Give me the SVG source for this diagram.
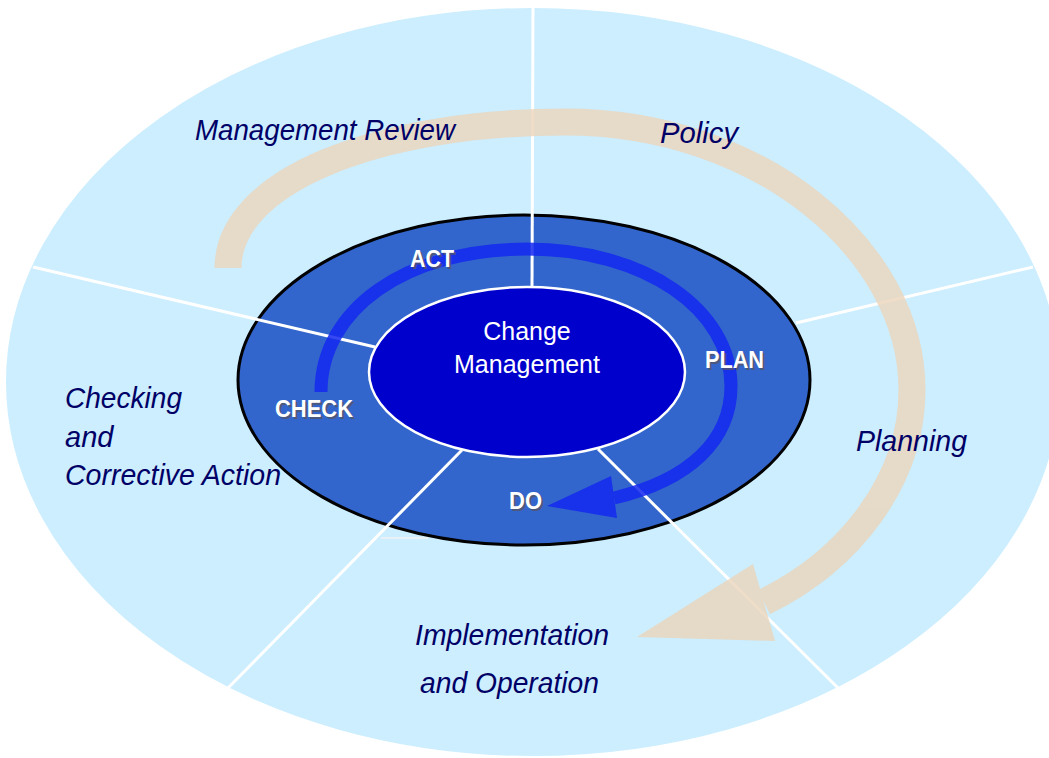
<svg xmlns="http://www.w3.org/2000/svg" width="1049" height="758" viewBox="0 0 1049 758">
<defs>
<style>
.lbl{font-family:"Liberation Sans",Arial,sans-serif;font-style:italic;font-size:29px;fill:#000066;}
.pd{font-family:"Liberation Sans",Arial,sans-serif;font-weight:bold;font-size:23px;fill:#ffffff;}
.pds{font-family:"Liberation Sans",Arial,sans-serif;font-weight:bold;font-size:23px;fill:#555566;opacity:0.75;}
.cm{font-family:"Liberation Sans",Arial,sans-serif;font-size:25px;fill:#ffffff;text-anchor:middle;}
.div{stroke:#ffffff;stroke-width:3;fill:none;}
</style>
</defs>
<rect width="1049" height="758" fill="#ffffff"/>
<g id="outer-ring">
<ellipse cx="533" cy="382" rx="528" ry="375" fill="#cceeff" stroke="#ffffff" stroke-width="2"/>
</g>
<g id="pdca-ring">
<line x1="381" y1="538" x2="428" y2="538" stroke="#e8f0f8" stroke-width="2"/>
<ellipse cx="524" cy="380" rx="286" ry="165" fill="#3366cc" stroke="#000000" stroke-width="3"/>
</g>
<g id="connectors">
<g id="dividers">
<line class="div" x1="533" y1="7" x2="532" y2="288"/>
<line class="div" x1="33" y1="267" x2="375" y2="347"/>
<line class="div" x1="1033" y1="267" x2="796" y2="323"/>
<line class="div" x1="228" y1="688" x2="462" y2="450"/>
<line class="div" x1="838" y1="688" x2="598" y2="449"/>
</g>
</g>
<g id="change-management">
<ellipse cx="527" cy="372" rx="158" ry="85" fill="#0000cc" stroke="#ffffff" stroke-width="2.5"/>
<text class="cm" x="527" y="340">Change</text>
<text class="cm" x="527" y="373">Management</text>
</g>
<g id="cycle-arrows">
<g id="outer-arrow" opacity="0.82">
<path d="M 228 268 C 228 180, 380 122, 565 122 C 760 122, 912 250, 912 390 C 912 480, 850 560, 764 602" fill="none" stroke="#ebd6bc" stroke-width="27"/>
<polygon points="753,564 637,637 775,641" fill="#ebd6bc"/>
</g>
<g id="inner-arrow" opacity="0.85">
<path d="M 321 392 C 321 310, 405 249, 527 249 C 645 249, 731 310, 731 386 C 731 440, 690 480, 614 498" fill="none" stroke="#1428f0" stroke-width="13"/>
<polygon points="611,476 547,506 617,518" fill="#1428f0"/>
</g>
</g>
<g id="management-review"><text class="lbl" x="195" y="140" textLength="260" lengthAdjust="spacingAndGlyphs">Management Review</text></g>
<g id="policy"><text class="lbl" x="660" y="143" textLength="78" lengthAdjust="spacingAndGlyphs">Policy</text></g>
<g id="planning"><text class="lbl" x="856" y="451" textLength="111" lengthAdjust="spacingAndGlyphs">Planning</text></g>
<g id="checking">
<text class="lbl" x="65" y="408" textLength="117" lengthAdjust="spacingAndGlyphs">Checking</text>
<text class="lbl" x="65" y="447">and</text>
<text class="lbl" x="65" y="485" textLength="216" lengthAdjust="spacingAndGlyphs">Corrective Action</text>
</g>
<g id="implementation">
<text class="lbl" x="415" y="645" textLength="194" lengthAdjust="spacingAndGlyphs">Implementation</text>
<text class="lbl" x="420" y="693" textLength="179" lengthAdjust="spacingAndGlyphs">and Operation</text>
</g>
<g id="act">
<text class="pds" x="412" y="269" textLength="44" lengthAdjust="spacingAndGlyphs">ACT</text>
<text class="pd" x="410" y="267" textLength="44" lengthAdjust="spacingAndGlyphs">ACT</text>
</g>
<g id="plan">
<text class="pds" x="707" y="370" textLength="59" lengthAdjust="spacingAndGlyphs">PLAN</text>
<text class="pd" x="705" y="368" textLength="59" lengthAdjust="spacingAndGlyphs">PLAN</text>
</g>
<g id="do">
<text class="pds" x="511" y="511" textLength="33" lengthAdjust="spacingAndGlyphs">DO</text>
<text class="pd" x="509" y="509" textLength="33" lengthAdjust="spacingAndGlyphs">DO</text>
</g>
<g id="check">
<text class="pds" x="277" y="419" textLength="78" lengthAdjust="spacingAndGlyphs">CHECK</text>
<text class="pd" x="275" y="417" textLength="78" lengthAdjust="spacingAndGlyphs">CHECK</text>
</g>
</svg>
